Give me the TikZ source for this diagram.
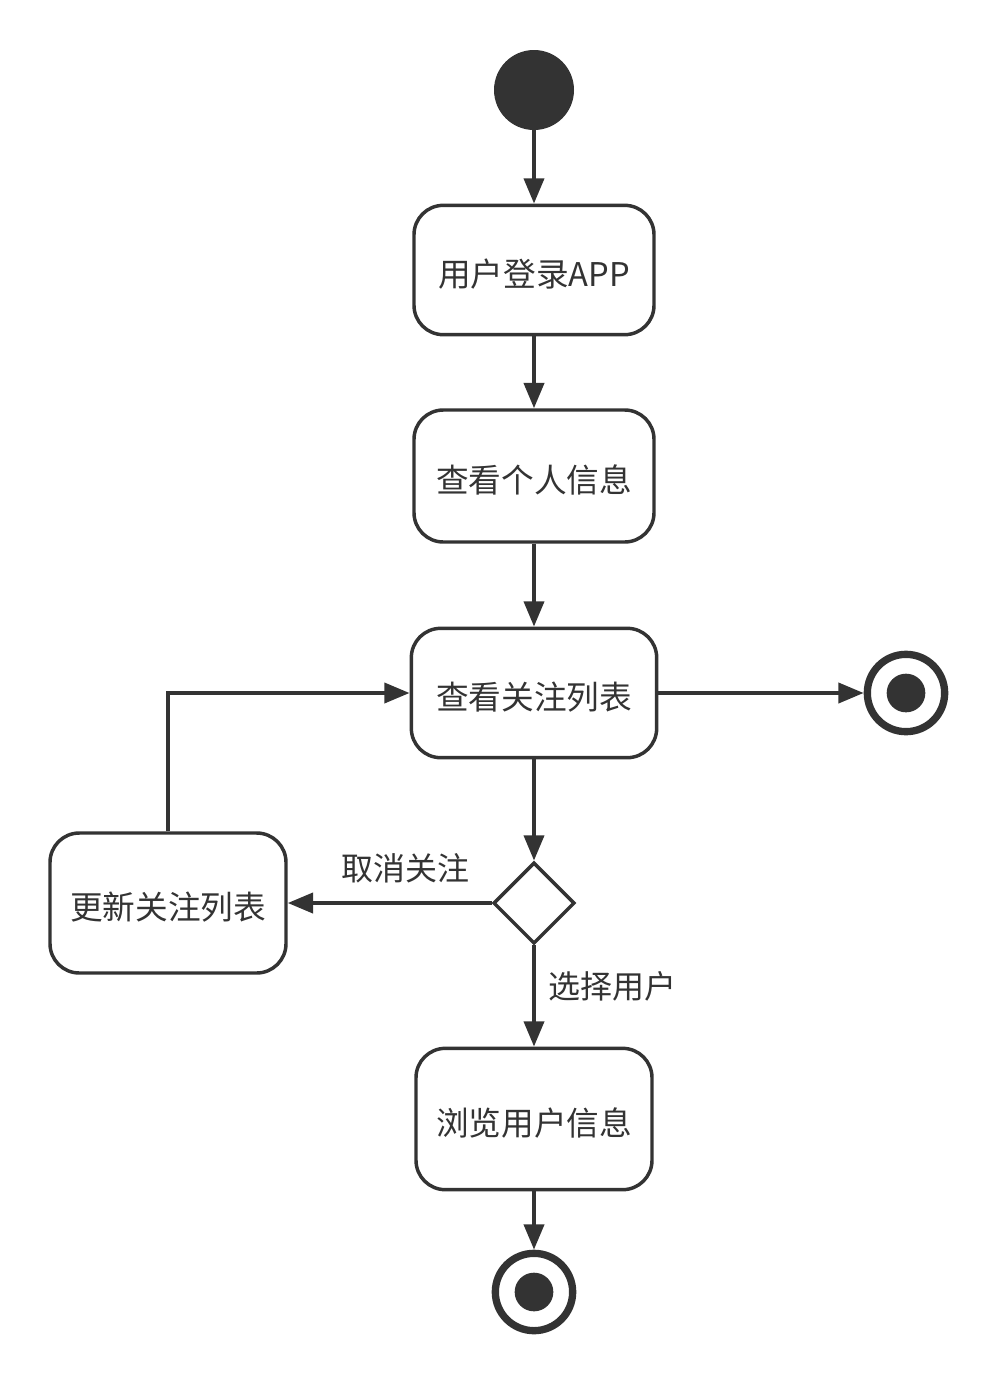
\documentclass[tikz,border=0pt]{standalone}
\usepackage{fontspec}
\setmainfont{Noto Sans CJK SC}
\usetikzlibrary{shapes.geometric,arrows.meta}
\definecolor{ink}{HTML}{333333}
\begin{document}
\begin{tikzpicture}[x=0.75pt,y=-0.75pt,
  act/.style={draw=ink,line width=2.6pt,rounded corners=22pt,fill=white,font=\fontsize{24.5}{28}\selectfont,text=ink,inner sep=0pt,text height=24pt,text depth=0pt},
  flow/.style={draw=ink,line width=3pt,-{Triangle[length=19pt,width=15pt]}},
  lbl/.style={font=\fontsize{24}{28}\selectfont,text=ink}]
\useasboundingbox[fill=white] (0,0) rectangle (996,1381);
\node[circle,fill=ink,minimum size=60pt,inner sep=0pt] (start) at (534,90) {};
\node[act,minimum width=180pt,minimum height=97pt] (a1) at (534,270) {用户登录APP};
\node[act,minimum width=180pt,minimum height=99pt] (a2) at (534,476) {查看个人信息};
\node[act,minimum width=184pt,minimum height=97pt] (a3) at (534,693) {查看关注列表};
\node[draw=ink,line width=2.6pt,diamond,aspect=1,minimum width=61pt,minimum height=61pt,inner sep=0pt,fill=white] (d) at (534,903) {};
\node[act,minimum width=177pt,minimum height=105pt] (a4) at (168,903) {更新关注列表};
\node[act,minimum width=177pt,minimum height=106pt] (a5) at (534,1119) {浏览用户信息};
\node[circle,draw=ink,line width=5.5pt,minimum size=58pt,inner sep=0pt] (e1) at (906,693) {};
\fill[ink] (e1.center) circle (14.5pt);
\node[circle,draw=ink,line width=5.5pt,minimum size=58pt,inner sep=0pt] (e2) at (534,1292) {};
\fill[ink] (e2.center) circle (14.5pt);
\draw[flow] (start) -- (a1);
\draw[flow] (a1) -- (a2);
\draw[flow] (a2) -- (a3);
\draw[flow] (a3) -- (e1);
\draw[flow] (a3) -- (d);
\draw[flow] (d) -- (a4);
\draw[flow] (d) -- (a5);
\draw[flow] (a5) -- (e2);
\draw[flow] (a4.north) |- (a3.west);
\node[lbl] (l1) at (405,868) {取消关注};
\node[lbl] (l2) at (612,986) {选择用户};
\end{tikzpicture}
\end{document}
